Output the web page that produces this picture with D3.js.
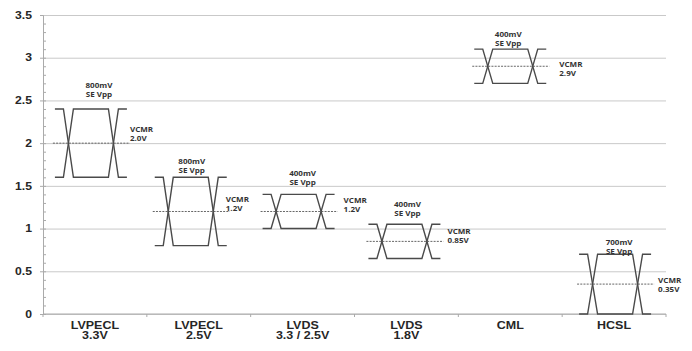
<!DOCTYPE html>
<html>
<head>
<meta charset="utf-8">
<script src="https://cdn.jsdelivr.net/npm/d3@7"></script>
<style>
    body { margin: 0; background: #fff; }
    #chart { width: 692px; height: 351px; }
</style>
</head>
<body>
<div id="chart"></div>
<script>

// signal standards (two-line labels under the axis)
let standards = ["LVPECL", "LVPECL", "LVDS", "LVDS", "CML", "HCSL"];
let supplies = ["3.3V", "2.5V", "3.3 / 2.5V", "1.8V", "", ""];

// common mode voltage and single ended swing, volts
let vcmr = [2.0, 1.2, 1.2, 0.85, 2.9, 0.35];
let swing = [0.8, 0.8, 0.4, 0.4, 0.4, 0.7];

// annotation texts
let swingLabels = ["800mV", "800mV", "400mV", "400mV", "400mV", "700mV"];
let vcmrLabels = ["2.0V", "1.2V", "1.2V", "0.85V", "2.9V", "0.35V"];

// y axis ticks
let yTicks = [0, 0.5, 1, 1.5, 2, 2.5, 3, 3.5];


class EyeChart {

    constructor(parentElement) {
        this.parentElement = parentElement;
    }

    initVis() {
        let vis = this;

        vis.margin = {top: 15, right: 26, bottom: 37, left: 43};
        vis.width = 692 - vis.margin.left - vis.margin.right;
        vis.height = 351 - vis.margin.top - vis.margin.bottom;

        vis.svg = d3.select("#" + vis.parentElement).append("svg")
            .attr("width", 692)
            .attr("height", 351)
            .append("g")
            .attr("transform", "translate(" + vis.margin.left + "," + vis.margin.top + ")");

        vis.x = d3.scaleBand().range([0, vis.width]);
        vis.y = d3.scaleLinear().domain([0, 3.5]).range([vis.height, 0]);

        // hand placed nudges of the eyes and notes, px (layout only)
        // [eye dx, swing note dx, swing note dy, vcmr note dx, vcmr note dy]
        vis.nudge = [
            [-4, 8, -23, 3, -14],
            [-8, 1, -16, -1, -12],
            [-4, 4, -21, 9, -11],
            [-2, 3, -20, 7, -10],
            [0, -2, -15, 13, -2],
            [1, 4, -12, 7, -4]
        ];

        vis.wrangleData();
    }

    wrangleData() {
        let vis = this;

        vis.displayData = standards.map(function(s, i) {
            return {
                key: s + " " + supplies[i],
                name: s,
                supply: supplies[i],
                vcm: vcmr[i],
                hi: vcmr[i] + swing[i] / 2,
                lo: vcmr[i] - swing[i] / 2,
                swingText: swingLabels[i],
                vcmText: vcmrLabels[i],
                nudge: vis.nudge[i]
            };
        });

        vis.updateVis();
    }

    updateVis() {
        let vis = this;
        let sx = 1.22;

        vis.x.domain(vis.displayData.map(function(d) { return d.key; }));
        let bw = vis.x.bandwidth();

        // gridlines
        vis.svg.append("g")
            .attr("class", "grid")
            .call(d3.axisLeft(vis.y).tickValues(yTicks).tickSize(-vis.width).tickFormat(""))
            .call(g => g.select(".domain").remove())
            .call(g => g.selectAll("line").attr("stroke", "#c9c9c9").attr("stroke-width", 1));

        // minor ticks
        vis.svg.append("g")
            .call(d3.axisRight(vis.y).tickValues(d3.range(0, 35).map(d => d / 10)).tickSize(3).tickFormat(""))
            .call(g => g.select(".domain").remove())
            .call(g => g.selectAll("line").attr("stroke", "#aaa"));

        // y axis
        vis.yAxisGroup = vis.svg.append("g")
            .attr("class", "y-axis axis")
            .call(d3.axisLeft(vis.y).tickValues(yTicks).tickSize(3).tickPadding(6)
                .tickFormat(d3.format("")));
        vis.yAxisGroup.select(".domain").attr("stroke", "#aaa");
        vis.yAxisGroup.selectAll("line").attr("stroke", "#aaa");
        vis.yAxisGroup.selectAll("text")
            .attr("font-family", "'Liberation Sans', Arial, sans-serif")
            .attr("font-weight", "bold")
            .attr("font-size", 10)
            .attr("fill", "#262626")
            .attr("x", -9)
            .attr("transform", "scale(" + sx + ",1)");

        // x axis: ticks at band edges
        let edges = vis.displayData.map(d => vis.x(d.key)).concat([vis.width]);
        vis.svg.append("line")
            .attr("x1", 0).attr("x2", vis.width)
            .attr("y1", vis.height).attr("y2", vis.height)
            .attr("stroke", "#aaa");
        vis.svg.selectAll(".xtick").data(edges).enter().append("line")
            .attr("class", "xtick")
            .attr("x1", d => d).attr("x2", d => d)
            .attr("y1", vis.height).attr("y2", vis.height + 3)
            .attr("stroke", "#aaa");

        let labels = vis.svg.selectAll(".xlab").data(vis.displayData).enter().append("g")
            .attr("class", "xlab")
            .attr("transform", d => "translate(" + (vis.x(d.key) + bw / 2) + "," + vis.height + ")");
        [["name", 15], ["supply", 25]].forEach(function(p) {
            labels.append("text")
                .attr("transform", "translate(0," + p[1] + ") scale(1.25,1)")
                .attr("text-anchor", "middle")
                .attr("font-family", "'Liberation Sans', Arial, sans-serif")
                .attr("font-weight", "bold")
                .attr("font-size", 10)
                .attr("fill", "#262626")
                .text(d => d[p[0]]);
        });

        // eye diagrams
        let half = 36, stub = 8.5, ramp = 10;
        let eyes = vis.svg.selectAll(".eye").data(vis.displayData).enter().append("g")
            .attr("class", "eye")
            .attr("transform", d => "translate(" + (vis.x(d.key) + bw / 2 + d.nudge[0]) + ",0)");

        let line = d3.line();
        function eyePath(d, startHigh) {
            let a = vis.y(startHigh ? d.hi : d.lo), b = vis.y(startHigh ? d.lo : d.hi);
            let x0 = -half, x1 = -half + stub, x2 = x1 + ramp;
            return line([[x0, a], [x1, a], [x2, b], [-x2, b], [-x1, a], [-x0, a]]);
        }
        eyes.append("path").attr("d", d => eyePath(d, true));
        eyes.append("path").attr("d", d => eyePath(d, false));
        eyes.selectAll("path")
            .attr("fill", "none")
            .attr("stroke", "#4a4a4a")
            .attr("stroke-width", 1.4);

        eyes.append("line")
            .attr("x1", -half - 2).attr("x2", half + 3)
            .attr("y1", d => vis.y(d.vcm)).attr("y2", d => vis.y(d.vcm))
            .attr("stroke", "#555")
            .attr("stroke-width", 0.9)
            .attr("stroke-dasharray", "2,1.2");

        function note(sel, lines, xf, yf, anchor) {
            lines.forEach(function(t, k) {
                sel.append("text")
                    .attr("transform", d => "translate(" + xf(d) + "," + (yf(d) + 2.5 + k * 9) + ") scale(1.15,1)")
                    .attr("text-anchor", anchor)
                    .attr("font-family", "'Open Sans', sans-serif")
                    .attr("font-weight", "bold")
                    .attr("font-size", 7)
                    .attr("fill", "#333")
                    .text(t);
            });
        }
        note(eyes, [d => d.swingText, "SE Vpp"],
            d => d.nudge[1], d => vis.y(d.hi) + d.nudge[2], "middle");
        note(eyes, ["VCMR", d => d.vcmText],
            d => half + d.nudge[3], d => vis.y(d.vcm) + d.nudge[4], "start");
    }
}

let chart = new EyeChart("chart");
chart.initVis();

</script>
</body>
</html>
